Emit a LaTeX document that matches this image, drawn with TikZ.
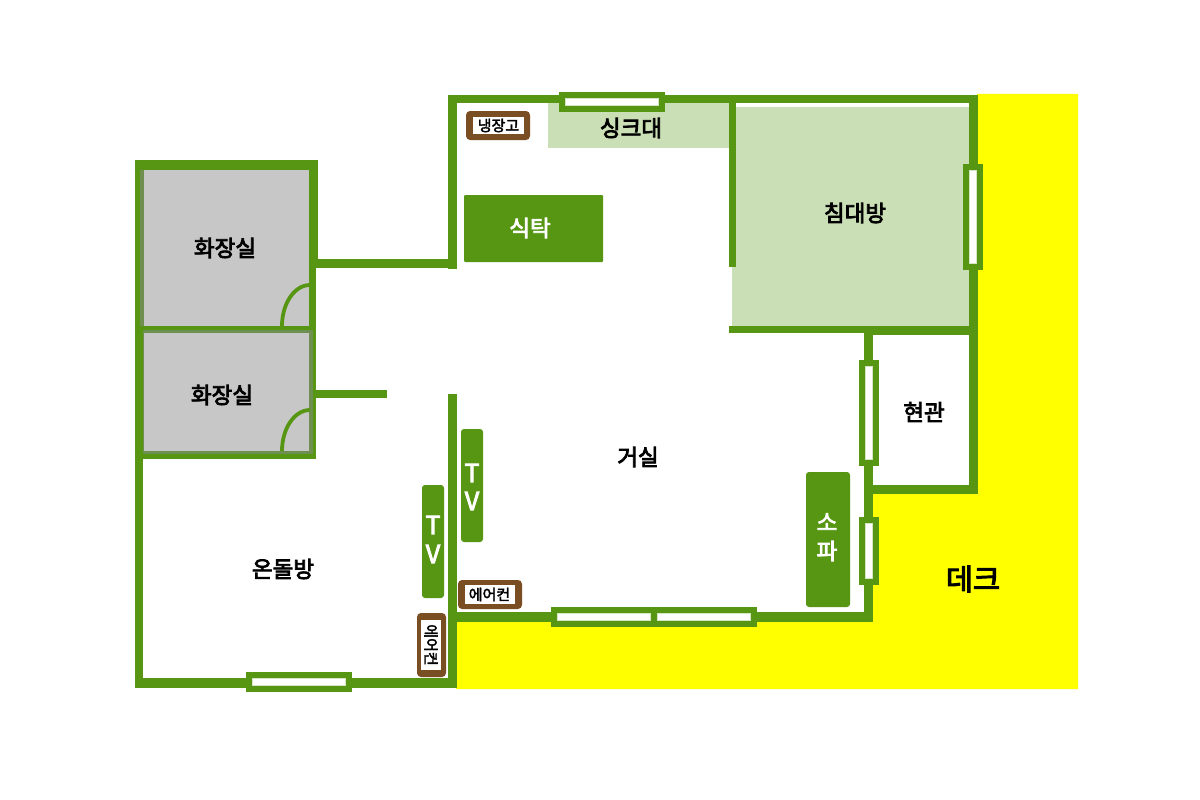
\documentclass[tikz,border=0pt]{standalone}
\usepackage{fontspec}
\setmainfont{Noto Sans CJK KR}
\newfontfamily\medfont[FakeBold=3.5]{Noto Sans CJK KR}
\newfontfamily\smallmed[FakeBold=2.5]{Noto Sans CJK KR}
\definecolor{wallgreen}{HTML}{569613}
\definecolor{softgreen}{HTML}{CBDFB6}
\definecolor{bathgray}{HTML}{C7C7C7}
\definecolor{bathedge}{HTML}{6E8F50}
\definecolor{frame}{HTML}{7A4E23}
\definecolor{deck}{HTML}{FFFF00}
\tikzset{
  wall/.style={fill=wallgreen},
  edge/.style={fill=bathedge},
  pane/.style={fill=white,draw=wallgreen!25,line width=.5pt},
  item/.style={fill=wallgreen,rounded corners=3pt},
  brownbox/.style={fill=frame,rounded corners=4pt},
  door/.style={draw=wallgreen,line width=3.8pt},
  room/.style={font=\medfont\fontsize{22.5}{22.5}\selectfont,text=black,inner sep=0pt},
  whitelabel/.style={font=\medfont\fontsize{22.5}{22.5}\selectfont,text=white,inner sep=0pt},
  tvlabel/.style={font=\medfont\fontsize{25}{25}\selectfont,text=white,inner sep=0pt},
  smalllabel/.style={font=\smallmed\fontsize{15}{15}\selectfont,text=black,inner sep=0pt}
}
\begin{document}
\begin{tikzpicture}[x=1pt,y=-1pt]
\useasboundingbox (0,0) rectangle (1200,800);
\fill[white] (0,0) rectangle (1200,800);
% deck
\fill[deck] (977,94) -- (1078,94) -- (1078,689) -- (456,689) -- (456,622) -- (873,622) -- (873,494) -- (977,494) -- cycle;
% soft areas
\fill[softgreen] (548,103) rectangle (730,148);
\fill[softgreen] (732,107) rectangle (970,327);
% bathrooms
\fill[bathgray] (143,168) rectangle (310,327);
\fill[bathgray] (143,332) rectangle (310,452);
\fill[edge] (140,169) rectangle (144,326);
\fill[edge] (143,333) rectangle (144,451);
\fill[edge] (309,333) rectangle (313,454);
\fill[edge] (143,451) rectangle (313,454);
\fill[edge] (143,330) rectangle (313,333);
% walls
\fill[wall] (135,160) rectangle (140,326);
\fill[wall] (135,326) rectangle (143,688);
\fill[wall] (135,160) rectangle (318,169.5);
\fill[wall] (309,160) rectangle (318,268);
\fill[wall] (309,268) rectangle (316,330);
\fill[wall] (313,330) rectangle (316,459);
\fill[wall] (135,326) rectangle (316,330);
\fill[wall] (135,454) rectangle (316,459);
\fill[wall] (316,259) rectangle (448,268);
\fill[wall] (316,390) rectangle (387,398);
\fill[wall] (448,95) rectangle (457,269);
\fill[wall] (448,95) rectangle (978,103);
\fill[wall] (729,103) rectangle (736,267);
\fill[wall] (969,95) rectangle (978,494);
\fill[wall] (729,326) rectangle (978,333);
\fill[wall] (873,333) rectangle (978,335);
\fill[wall] (864,333) rectangle (873,622);
\fill[wall] (873,485) rectangle (978,494);
\fill[wall] (448,612) rectangle (873,622);
\fill[wall] (448,394) rectangle (457,688);
\fill[wall] (135,678) rectangle (457,688);
% windows
\fill[wall] (559,92) rectangle (665,112);
\fill[pane] (565.5,98.5) rectangle (658.5,105.5);
\fill[wall] (963,164) rectangle (983,270);
\fill[pane] (969.5,170.5) rectangle (976.5,263.5);
\fill[wall] (859,360) rectangle (879,466);
\fill[pane] (865.7,366.5) rectangle (872.7,459.5);
\fill[wall] (859,517) rectangle (879,585);
\fill[pane] (865.7,523.5) rectangle (872.7,578);
\fill[wall] (551,607) rectangle (757,627);
\fill[pane] (557.5,613.7) rectangle (650.5,620.7);
\fill[pane] (657.5,613.7) rectangle (750.5,620.7);
\fill[wall] (246,672) rectangle (352,692);
\fill[pane] (252.5,678.7) rectangle (345.5,685.7);
% door swings
\draw[door] (282,326) arc[start angle=180,end angle=270,x radius=28,y radius=41];
\draw[door] (282,451) arc[start angle=180,end angle=270,x radius=28,y radius=41];
% furniture
\fill[wallgreen,rounded corners=1pt] (464,195) rectangle (603,262);
\fill[item] (461,429) rectangle (483,542);
\fill[item] (422,485) rectangle (444,598);
\fill[item] (806,472) rectangle (850,607);
\fill[brownbox] (466,111) rectangle (530,140);
\fill[white] (473,117) rectangle (524,134);
\fill[brownbox] (458,580) rectangle (522,609);
\fill[white] (465,585) rectangle (515,604);
\fill[brownbox] (417,613) rectangle (446,677);
\fill[white] (421,620) rectangle (441,670);
% labels
\node[room] (bath1) at (225,248) {화장실};
\node[room] (bath2) at (222,395) {화장실};
\node[room] (ondol) at (283,569) {온돌방};
\node[room] (sink) at (631,128) {싱크대};
\node[room] (bed) at (855,213) {침대방};
\node[room] (foyer) at (924,412) {현관};
\node[room] (living) at (638,457) {거실};
\node[room,font=\medfont\fontsize{29.5}{29.5}\selectfont] (decklabel) at (973,579) {데크};
\node[whitelabel] (dining) at (530,228) {식탁};
\node[tvlabel] (tv1a) at (472,473) {T};
\node[tvlabel] (tv1b) at (472,501) {V};
\node[tvlabel] (tv2a) at (433,525) {T};
\node[tvlabel] (tv2b) at (433,554) {V};
\node[whitelabel] (sofa1) at (827,522) {소};
\node[whitelabel] (sofa2) at (827,551) {파};
\node[smalllabel] (fridge) at (498.5,125.5) {냉장고};
\node[smalllabel] (ac1) at (489.5,594.5) {에어컨};
\node[smalllabel,rotate=-90] (ac2) at (431,645) {에어컨};
\end{tikzpicture}
\end{document}
